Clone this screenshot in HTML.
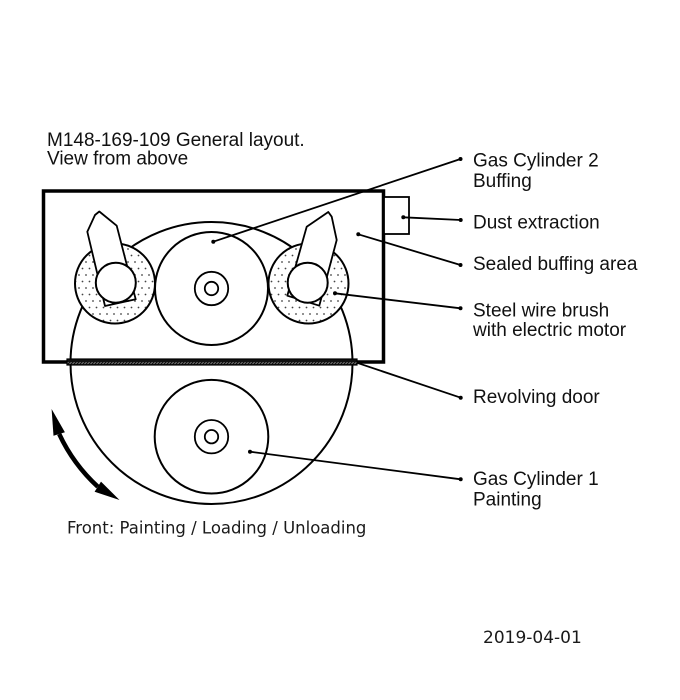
<!DOCTYPE html>
<html><head><meta charset="utf-8"><style>
html,body{margin:0;padding:0;background:#fff;}
svg{display:block;}
.lbl{font-family:"Liberation Sans",Arial,sans-serif;font-size:19px;fill:#111;}
.dj{font-family:"DejaVu Sans",Verdana,sans-serif;fill:#1a1a1a;}
</style></head><body>
<svg width="680" height="700" viewBox="0 0 680 700" xmlns="http://www.w3.org/2000/svg">
<defs>
<pattern id="dots" x="0" y="0" width="7" height="13" patternUnits="userSpaceOnUse">
<rect width="7" height="13" fill="#fff"/>
<circle cx="2" cy="2" r="0.9" fill="#444"/>
<circle cx="5.5" cy="8.5" r="0.9" fill="#444"/>
</pattern>
<pattern id="door" x="0" y="0" width="6" height="6" patternUnits="userSpaceOnUse">
<rect width="6" height="6" fill="#111"/>
<path d="M0.5 4 L2.5 2.2 M3.5 4 L5.5 2.2" stroke="#999" stroke-width="0.8"/>
</pattern>
</defs>
<rect width="680" height="700" fill="#fff"/>

<!-- title -->
<text class="lbl" x="47" y="146">M148-169-109 General layout.</text>
<text class="lbl" x="47" y="164.5">View from above</text>

<!-- big revolving circle -->
<circle cx="211.5" cy="363" r="141" fill="none" stroke="#000" stroke-width="2"/>

<!-- housing box -->
<rect x="43.5" y="191" width="340" height="171" fill="none" stroke="#000" stroke-width="3.5"/>
<!-- dust extraction box -->
<rect x="384" y="197" width="25" height="37" fill="#fff" stroke="#000" stroke-width="1.8"/>

<!-- central cylinder 2 -->
<circle cx="211.5" cy="288.5" r="56.5" fill="#fff" stroke="#000" stroke-width="2"/>
<circle cx="211.5" cy="288.5" r="16.7" fill="none" stroke="#000" stroke-width="1.8"/>
<circle cx="211.5" cy="288.5" r="6.7" fill="none" stroke="#000" stroke-width="1.8"/>

<!-- left brush -->
<circle cx="115" cy="283.5" r="40" fill="url(#dots)" stroke="#000" stroke-width="2"/>
<polygon points="95,215 99.3,211.5 116.7,225.7 135.7,299.3 105,306 87.3,231.7" fill="#fff" stroke="#000" stroke-width="1.8" stroke-linejoin="round"/>
<circle cx="115.8" cy="282.7" r="20" fill="#fff" stroke="#000" stroke-width="2"/>

<!-- right brush -->
<circle cx="308.5" cy="283.5" r="40" fill="url(#dots)" stroke="#000" stroke-width="2"/>
<polygon points="328.3,212 331.7,216.7 336.7,240 319.3,305.7 287.3,295.7 306.7,226.7" fill="#fff" stroke="#000" stroke-width="1.8" stroke-linejoin="round"/>
<circle cx="307.7" cy="282.7" r="20" fill="#fff" stroke="#000" stroke-width="2"/>

<!-- revolving door strip -->
<rect x="67" y="359" width="290" height="6" fill="url(#door)" stroke="#000" stroke-width="1.2"/>

<!-- cylinder 1 -->
<circle cx="211.5" cy="436.7" r="56.8" fill="none" stroke="#000" stroke-width="2"/>
<circle cx="211.5" cy="436.7" r="16.7" fill="none" stroke="#000" stroke-width="1.8"/>
<circle cx="211.5" cy="436.7" r="6.7" fill="none" stroke="#000" stroke-width="1.8"/>

<!-- leader lines -->
<g stroke="#000" stroke-width="1.8" fill="#000">
<line x1="213.3" y1="241.7" x2="460.5" y2="159"/>
<circle cx="213.3" cy="241.7" r="2" stroke="none"/><circle cx="460.5" cy="159" r="2" stroke="none"/>
<line x1="403.3" y1="217.3" x2="460.7" y2="220"/>
<circle cx="403.3" cy="217.3" r="2" stroke="none"/><circle cx="460.7" cy="220" r="2" stroke="none"/>
<line x1="358.3" y1="234.3" x2="460.5" y2="265"/>
<circle cx="358.3" cy="234.3" r="2" stroke="none"/><circle cx="460.5" cy="265" r="2" stroke="none"/>
<line x1="335" y1="293.3" x2="460.5" y2="308.3"/>
<circle cx="335" cy="293.3" r="2" stroke="none"/><circle cx="460.5" cy="308.3" r="2" stroke="none"/>
<line x1="356.7" y1="362.7" x2="460.7" y2="397.7"/>
<circle cx="460.7" cy="397.7" r="2" stroke="none"/>
<line x1="250" y1="451.7" x2="460.7" y2="479.3"/>
<circle cx="250" cy="451.7" r="2" stroke="none"/><circle cx="460.7" cy="479.3" r="2" stroke="none"/>
</g>

<!-- rotation arrow -->
<path d="M59.2 434 A168 168 0 0 0 97.8 486.7" fill="none" stroke="#000" stroke-width="4.5"/>
<polygon points="51.6,409 64.9,432.2 53.5,435.8" fill="#000"/>
<polygon points="119.5,500 94.6,491.8 101,481.6" fill="#000"/>

<!-- labels -->
<text class="lbl" x="473" y="166.5">Gas Cylinder 2</text>
<text class="lbl" x="473" y="187">Buffing</text>
<text class="lbl" x="473" y="228.5">Dust extraction</text>
<text class="lbl" x="473" y="270">Sealed buffing area</text>
<text class="lbl" x="473" y="316.5">Steel wire brush</text>
<text class="lbl" x="473" y="336">with electric motor</text>
<text class="lbl" x="473" y="403">Revolving door</text>
<text class="lbl" x="473" y="485">Gas Cylinder 1</text>
<text class="lbl" x="473" y="505.5">Painting</text>

<text class="dj" x="67" y="533.5" font-size="16.5">Front: Painting / Loading / Unloading</text>
<text class="dj" x="483" y="643" font-size="17">2019-04-01</text>
</svg>
</body></html>
